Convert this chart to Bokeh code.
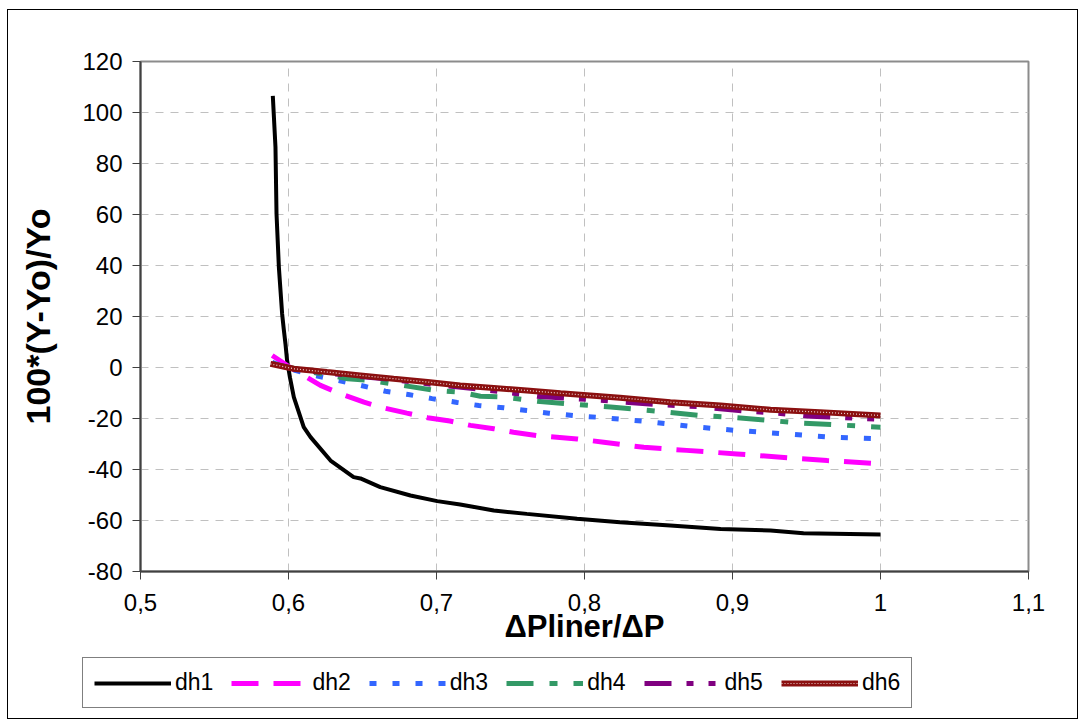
from bokeh.plotting import figure
from bokeh.layouts import column
from bokeh.models import Range1d, FixedTicker, CustomJSTickFormatter, Legend, LegendItem
from bokeh.embed import file_html
from bokeh.resources import INLINE

# ---- data ----
dh1_x = [0.5894, 0.5912, 0.5919, 0.5935, 0.5957, 0.5968, 0.598, 0.599, 0.601, 0.6036, 0.6103, 0.6149,
         0.6284, 0.644, 0.6486, 0.662, 0.6824, 0.7005, 0.716, 0.7387, 0.761, 0.795, 0.824, 0.858,
         0.892, 0.9257, 0.948, 1.0]
dh1_y = [106.5, 86.4, 60.3, 39.3, 21.0, 15.0, 9.0, 3.0, -4.0, -11.6, -23.4, -27.3,
         -36.5, -43.0, -43.5, -46.9, -50.2, -52.4, -53.7, -56.1, -57.4, -59.3, -60.7, -62.0,
         -63.3, -63.9, -65.0, -65.5]

dh2_x = [0.589, 0.601, 0.6216, 0.635, 0.651, 0.664, 0.680, 0.694, 0.709, 0.723, 0.7387, 0.752,
         0.768, 0.795, 0.813, 0.840, 0.869, 0.903, 0.937, 0.964, 1.0]
dh2_y = [4.7, 0.1, -7.0, -10.3, -13.6, -15.8, -17.9, -19.7, -21.0, -22.7, -24.0, -25.4,
         -26.7, -28.0, -29.3, -31.3, -32.5, -33.9, -35.4, -36.5, -37.8]

dh3_x = [0.589, 0.600, 0.615, 0.634, 0.6486, 0.6655, 0.681, 0.697, 0.714, 0.7286, 0.7455, 0.761,
         0.776, 0.793, 0.8086, 0.839, 0.8716, 0.903, 0.9346, 0.966, 1.0]
dh3_y = [2.0, -0.4, -2.8, -5.1, -7.0, -9.3, -10.6, -12.2, -13.7, -14.9, -15.8, -16.9,
         -17.9, -18.9, -19.5, -21.0, -23.1, -24.7, -26.0, -27.3, -28.0]

dh4_x = [0.589, 0.61, 0.64, 0.6554, 0.678, 0.699, 0.716, 0.7297, 0.7455, 0.768, 0.788, 0.8176,
         0.849, 0.878, 0.903, 0.946, 0.968, 1.0]
dh4_y = [1.6, -1.2, -4.4, -5.1, -7.1, -9.0, -9.7, -11.3, -11.6, -13.2, -14.2, -15.5,
         -17.1, -18.8, -19.7, -21.8, -22.4, -23.4]

dh5_x = [0.589, 0.605, 0.626, 0.6486, 0.6757, 0.694, 0.7117, 0.7275, 0.752, 0.770, 0.786, 0.813,
         0.847, 0.876, 0.9077, 0.930, 0.9527, 1.0]
dh5_y = [1.5, -0.8, -2.2, -3.5, -5.1, -6.4, -7.5, -8.4, -10.1, -11.4, -12.0, -12.9,
         -14.5, -15.3, -17.1, -17.9, -19.1, -20.3]

dh6_x = [0.5878, 0.6036, 0.626, 0.6486, 0.671, 0.694, 0.716, 0.7387, 0.761, 0.7838, 0.824, 0.858,
         0.892, 0.9257, 0.959, 1.0]
dh6_y = [1.4, -0.5, -1.8, -3.1, -4.4, -5.7, -7.1, -8.0, -9.0, -10.1, -11.9, -13.6,
         -14.9, -16.6, -17.5, -18.8]

x_ticks = [0.5, 0.6, 0.7, 0.8, 0.9, 1.0, 1.1]
y_ticks = [-80, -60, -40, -20, 0, 20, 40, 60, 80, 100, 120]
series_names = ["dh1", "dh2", "dh3", "dh4", "dh5", "dh6"]

FONT = "Liberation Sans"

STYLES = [
    dict(line_color="black", line_width=4),
    dict(line_color="#ff00ff", line_width=5, line_dash="27 15"),
    dict(line_color="#3366ff", line_width=5, line_dash="7 16"),
    dict(line_color="#339966", line_width=5, line_dash="27 16 8 16"),
    dict(line_color="#800080", line_width=5, line_dash="27 15 7 15 7 18"),
    dict(line_color="#8b1010", line_width=6),
]
DH6_DOTS = dict(line_color="white", line_width=1.2, line_dash="1 2", line_alpha=0.8)

# ---------------- main chart ----------------
p = figure(width=1069, height=645, output_backend="svg", toolbar_location=None,
           x_range=Range1d(0.5, 1.1), y_range=Range1d(-80, 120),
           min_border_left=132, min_border_right=49, min_border_top=51, min_border_bottom=84)
p.frame_align = False
p.background_fill_color = "white"
p.border_fill_color = "white"
p.outline_line_color = "#8c8c8c"
p.outline_line_width = 2

for ax in (p.xaxis[0], p.yaxis[0]):
    ax.axis_line_color = "#404040"
    ax.axis_line_width = 2
    ax.major_tick_line_color = "#404040"
    ax.major_tick_line_width = 1
    ax.major_tick_in = 0
    ax.major_tick_out = 8
    ax.minor_tick_line_color = None
    ax.major_label_text_font = FONT
    ax.major_label_text_font_size = "24px"
    ax.major_label_text_color = "black"
    ax.axis_label_text_font = FONT
    ax.axis_label_text_font_style = "bold"
    ax.axis_label_text_color = "black"

p.xaxis[0].axis_label_text_font_size = "31px"
p.yaxis[0].axis_label_text_font_size = "34px"
p.xaxis[0].ticker = FixedTicker(ticks=x_ticks)
p.yaxis[0].ticker = FixedTicker(ticks=y_ticks)
p.xaxis[0].formatter = CustomJSTickFormatter(
    code="return (Math.round(tick*10)/10).toString().replace('.', ',');")
p.yaxis[0].formatter = CustomJSTickFormatter(code="return Math.round(tick).toString();")
p.xaxis[0].major_label_standoff = 14
p.yaxis[0].major_label_standoff = 10
p.xaxis[0].axis_label = "ΔPliner/ΔP"
p.xaxis[0].axis_label_standoff = -5
p.yaxis[0].axis_label = "100*(Y-Yo)/Yo"
p.yaxis[0].axis_label_standoff = 22

p.xgrid.grid_line_color = "#c0c0c0"
p.xgrid.grid_line_dash = "8 7"
p.ygrid.grid_line_color = "#c0c0c0"
p.ygrid.grid_line_dash = "8 7"

series = [(dh1_x, dh1_y), (dh2_x, dh2_y), (dh3_x, dh3_y), (dh4_x, dh4_y), (dh5_x, dh5_y), (dh6_x, dh6_y)]
for (xs, ys), st in zip(series, STYLES):
    p.line(xs, ys, **st)
p.line(dh6_x, dh6_y, **DH6_DOTS)

# ---------------- legend strip ----------------
lf = figure(width=1069, height=63, output_backend="svg", toolbar_location=None,
            x_range=Range1d(10, 11), y_range=Range1d(10, 11),
            x_axis_location=None, y_axis_location=None,
            min_border_left=0, min_border_right=0, min_border_top=0, min_border_bottom=0)
lf.frame_align = False
lf.xgrid.visible = False
lf.ygrid.visible = False
lf.outline_line_color = None
lf.background_fill_color = "white"
lf.border_fill_color = "white"

items = []
for name, st in zip(series_names, STYLES):
    rs = [lf.line([0, 1], [0, 0], **st)]
    if name == "dh6":
        rs.append(lf.line([0, 1], [0, 0], **DH6_DOTS))
    items.append(LegendItem(label=name, renderers=rs))

legend = Legend(items=items, orientation="horizontal", location=(74, 10))
legend.glyph_width = 77
legend.glyph_height = 20
legend.label_standoff = 4
legend.spacing = 18
legend.padding = 11
legend.margin = 0
legend.label_text_font = FONT
legend.label_text_font_size = "23px"
legend.label_text_color = "black"
legend.border_line_color = "black"
legend.border_line_width = 1
legend.background_fill_color = "white"
legend.background_fill_alpha = 1
lf.add_layout(legend, "center")

page = column(p, lf, spacing=0)
page.margin = (9, 0, 0, 7)
page.styles = {"border": "1px solid black", "background-color": "white"}

open("out.html", "w").write(file_html(page, INLINE))
